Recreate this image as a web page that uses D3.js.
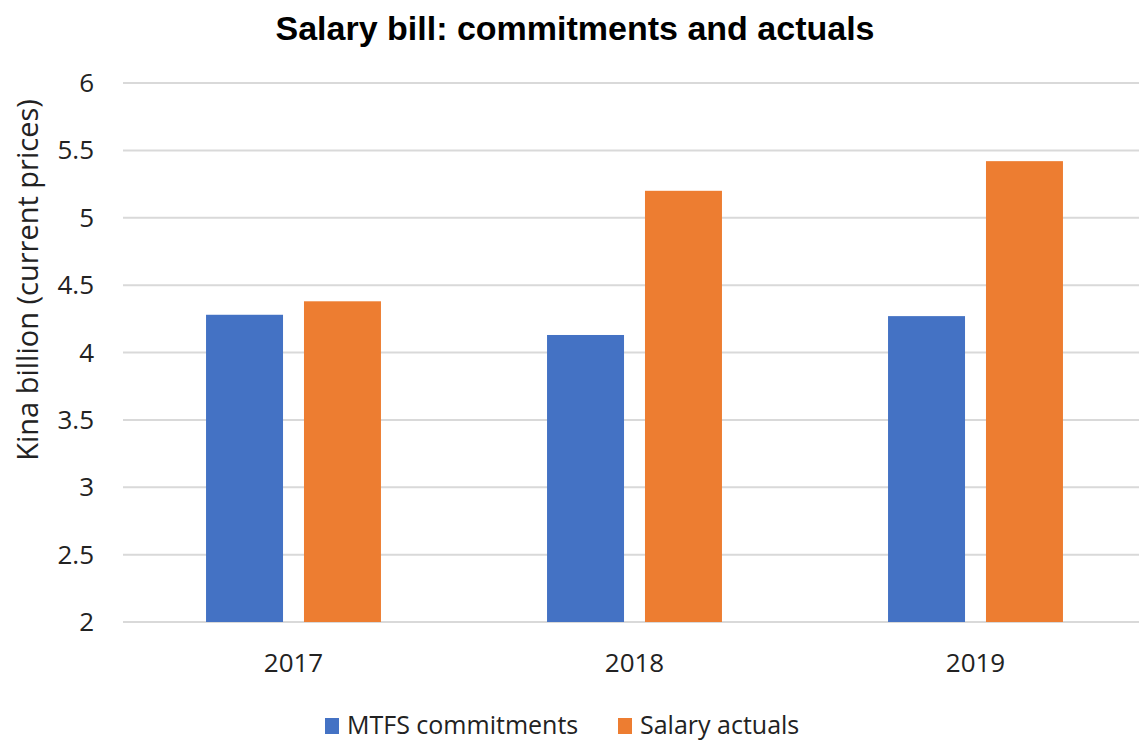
<!DOCTYPE html>
<html>
<head>
<meta charset="utf-8">
<script src="https://cdn.jsdelivr.net/npm/d3@7"></script>
<style>
  body { margin: 0; background: #fff; }
  svg { display: block; }
</style>
</head>
<body>
<svg id="chart" width="1139" height="742"></svg>
<script>
const years = ["2017", "2018", "2019"]
const seriesNames = ["MTFS commitments", "Salary actuals"]
const mtfs = [4.28, 4.13, 4.27]
const actuals = [4.38, 5.20, 5.42]
const yTicks = [2, 2.5, 3, 3.5, 4, 4.5, 5, 5.5, 6]
const colors = ["#4472C4", "#ED7D31"]

const width = 1139
const height = 742
const margin = { top: 83, right: -7, bottom: 120, left: 123 }
const fontAxis = "'Open Sans', Lato, sans-serif"

const svg = d3.select("#chart")

// 比例尺
const x0 = d3.scaleBand()
    .domain(years)
    .range([margin.left, width - margin.right])
    .paddingInner(0.487)
    .paddingOuter(0.2435)

const x1 = d3.scaleBand()
    .domain(seriesNames)
    .range([0, x0.bandwidth()])
    .paddingInner(0.214)

const y = d3.scaleLinear()
    .domain([2, 6])
    .range([height - margin.bottom, margin.top])

// 网格线
svg.append("g")
    .selectAll("line")
    .data(yTicks)
    .enter()
    .append("line")
    .attr("x1", margin.left)
    .attr("x2", width)
    .attr("y1", d => y(d))
    .attr("y2", d => y(d))
    .attr("stroke", "#d9d9d9")
    .attr("stroke-width", 2)

// y 轴标签
svg.append("g")
    .selectAll("text")
    .data(yTicks)
    .enter()
    .append("text")
    .attr("x", 94)
    .attr("y", d => y(d))
    .attr("dy", "0.35em")
    .attr("text-anchor", "end")
    .attr("font-family", fontAxis)
    .attr("font-size", 26)
    .attr("fill", "#222")
    .text(d => d)

// x 轴标签
svg.append("g")
    .selectAll("text")
    .data(years)
    .enter()
    .append("text")
    .attr("x", d => x0(d) + x0.bandwidth() / 2)
    .attr("y", 672)
    .attr("text-anchor", "middle")
    .attr("font-family", fontAxis)
    .attr("font-size", 26)
    .attr("fill", "#222")
    .text(d => d)

// 柱子
const rows = years.map((yr, i) => ({ year: yr, values: [mtfs[i], actuals[i]] }))

svg.append("g")
    .selectAll("g")
    .data(rows)
    .enter()
    .append("g")
    .attr("transform", d => "translate(" + x0(d.year) + ",0)")
    .selectAll("rect")
    .data(d => d.values.map((v, j) => ({ name: seriesNames[j], value: v, color: colors[j] })))
    .enter()
    .append("rect")
    .attr("x", d => x1(d.name))
    .attr("width", x1.bandwidth())
    .attr("y", d => y(d.value))
    .attr("height", d => y(2) - y(d.value))
    .attr("fill", d => d.color)

// 标题
svg.append("text")
    .attr("x", 575)
    .attr("y", 40)
    .attr("text-anchor", "middle")
    .attr("font-family", "'Liberation Sans', Arial, sans-serif")
    .attr("font-weight", "bold")
    .attr("font-size", 34)
    .attr("fill", "#000")
    .text("Salary bill: commitments and actuals")

// y 轴标题
svg.append("text")
    .attr("transform", "translate(38,280) rotate(-90)")
    .attr("text-anchor", "middle")
    .attr("font-family", fontAxis)
    .attr("font-size", 29)
    .attr("fill", "#222")
    .text("Kina billion (current prices)")

// 图例
const legend = svg.append("g")
const legendX = [325, 618]
seriesNames.forEach((name, i) => {
    legend.append("rect")
        .attr("x", legendX[i])
        .attr("y", 718)
        .attr("width", 14)
        .attr("height", 16)
        .attr("fill", colors[i])
    legend.append("text")
        .attr("x", legendX[i] + 22)
        .attr("y", 734)
        .attr("font-family", fontAxis)
        .attr("font-size", 25)
        .attr("fill", "#222")
        .text(name)
})
</script>
</body>
</html>
